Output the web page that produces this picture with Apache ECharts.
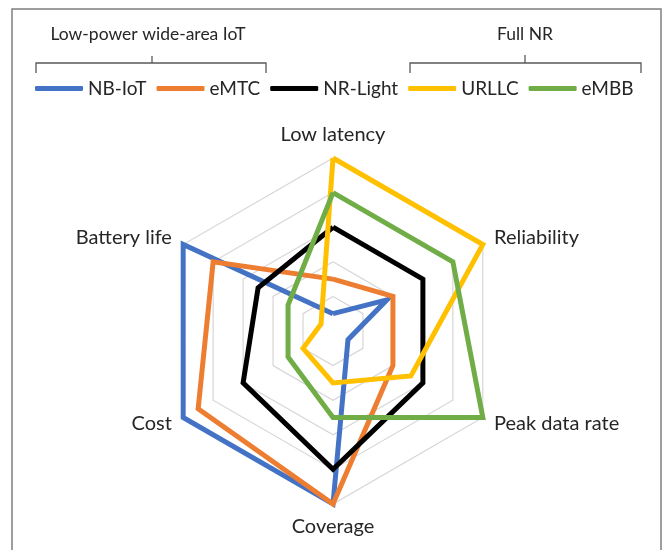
<!DOCTYPE html>
<html>
<head>
<meta charset="utf-8">
<script src="https://cdn.jsdelivr.net/npm/echarts@6/dist/echarts.min.js"></script>
<style>
html,body{margin:0;padding:0;background:#fff;}
#chart{width:667px;height:550px;}
</style>
</head>
<body>
<div id="chart"></div>
<script>
// Indicator order as ECharts draws them (counter-clockwise from the top)
const indicators = ['Low latency', 'Battery life', 'Cost', 'Coverage', 'Peak data rate', 'Reliability'];
const indicatorMax = 5;
const seriesNames = ['NB-IoT', 'eMTC', 'NR-Light', 'URLLC', 'eMBB'];
const nbIot   = [0.5, 5,   5,   5,   0.5, 1.8];
const eMtc    = [1.5, 4,   4.5, 5,   2,   2];
const nrLight = [3,   2.5, 3,   4,   3,   3];
const urllc   = [5,   0.4, 1,   1.5, 2.6, 5];
const eMbb    = [4,   1.5, 1.5, 2.5, 5,   4];
const groupLabels = ['Low-power wide-area IoT', 'Full NR'];

const colors = ['#4472C4', '#ED7D31', '#000000', '#FFC000', '#70AD47'];
const seriesValues = [nbIot, eMtc, nrLight, urllc, eMbb];
const FONT = 'Lato';

const chart = echarts.init(document.getElementById('chart'));
chart.setOption({
  animation: false,
  color: colors,
  textStyle: {fontFamily: FONT},
  legend: {
    data: seriesNames,
    left: 35,
    top: 79,
    width: 630,
    padding: 0,
    icon: 'roundRect',
    itemWidth: 48,
    itemHeight: 5,
    itemGap: 10,
    textStyle: {fontSize: 19, color: '#262626', fontFamily: FONT}
  },
  graphic: [
    {type: 'rect', shape: {x: 12, y: 9, width: 649, height: 560},
     style: {fill: 'none', stroke: '#7f7f7f', lineWidth: 1.5}, silent: true},
    {type: 'text', x: 148, y: 34,
     style: {text: groupLabels[0], fontSize: 17.5, fontFamily: FONT, fill: '#262626', align: 'center', verticalAlign: 'middle'}},
    {type: 'text', x: 525, y: 34,
     style: {text: groupLabels[1], fontSize: 17.5, fontFamily: FONT, fill: '#262626', align: 'center', verticalAlign: 'middle'}},
    {type: 'polyline', shape: {points: [[36, 73], [36, 63], [266, 63], [266, 73]]},
     style: {stroke: '#595959', lineWidth: 1.3, fill: 'none'}},
    {type: 'line', shape: {x1: 152, y1: 56, x2: 152, y2: 63},
     style: {stroke: '#595959', lineWidth: 1.3}},
    {type: 'polyline', shape: {points: [[410, 73], [410, 63], [641, 63], [641, 73]]},
     style: {stroke: '#595959', lineWidth: 1.3, fill: 'none'}},
    {type: 'line', shape: {x1: 525, y1: 55, x2: 525, y2: 63},
     style: {stroke: '#595959', lineWidth: 1.3}}
  ],
  radar: {
    center: [333, 331],
    radius: 173,
    startAngle: 90,
    splitNumber: 5,
    shape: 'polygon',
    indicator: indicators.map(n => ({name: n, min: 0, max: indicatorMax})),
    axisName: {color: '#262626', fontSize: 20, fontFamily: FONT},
    nameGap: 13,
    axisLine: {show: false},
    axisTick: {show: false},
    splitArea: {show: false},
    splitLine: {lineStyle: {color: '#d6d6d6', width: 1.2}}
  },
  series: [{
    type: 'radar',
    symbol: 'none',
    data: seriesNames.map((n, i) => ({
      name: n,
      value: seriesValues[i],
      lineStyle: {color: colors[i], width: 5, join: 'miter', miterLimit: 10}
    }))
  }]
});
</script>
</body>
</html>
